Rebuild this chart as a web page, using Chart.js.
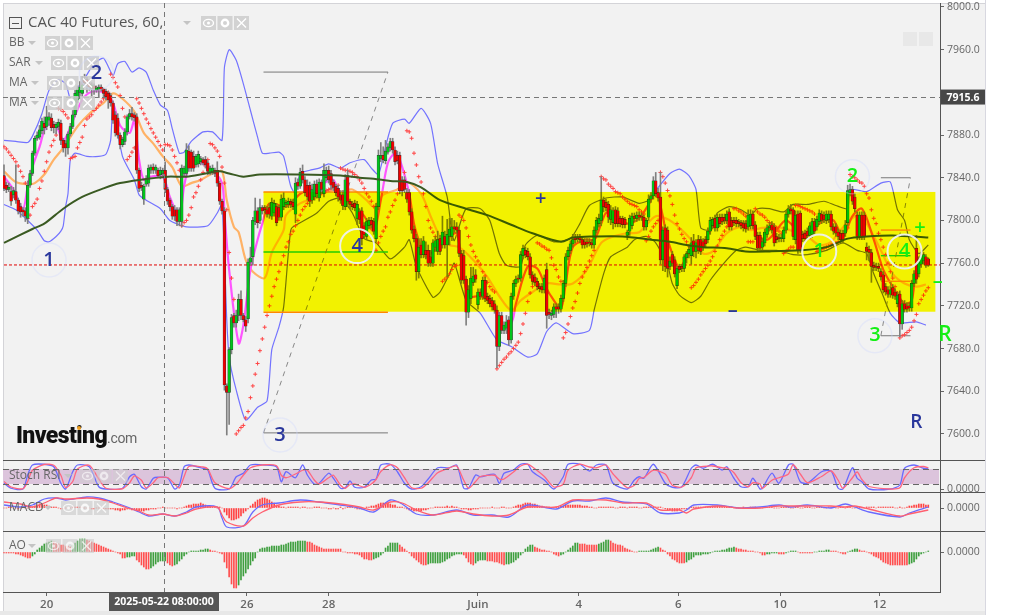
<!DOCTYPE html>
<html><head><meta charset="utf-8">
<style>html,body{margin:0;padding:0;background:#fff;overflow:hidden}canvas{display:block}</style>
<script src="https://cdn.jsdelivr.net/npm/chart.js@4"></script>
</head><body><canvas id="c" width="1014" height="615"></canvas>
<script>
const opens=[7842,7833,7829,7827,7824,7827,7819,7813,7810,7809,
7802,7833,7844,7863,7877,7878,7884,7891,7888,7894,
7896,7890,7887,7888,7891,7875,7872,7868,7881,7888,
7899,7913,7920,7919,7932,7932,7928,7923,7926,7922,
7923,7925,7923,7921,7919,7917,7910,7899,7896,7880,
7871,7874,7883,7897,7900,7899,7897,7847,7833,7820,
7834,7835,7847,7850,7847,7847,7843,7844,7847,7829,
7819,7813,7810,7810,7799,7799,7844,7844,7865,7864,
7860,7852,7853,7855,7857,7857,7854,7845,7846,7847,
7847,7835,7818,7809,7645,7639,7679,7711,7704,7711,
7726,7711,7707,7708,7761,7766,7799,7809,7800,7812,
7812,7810,7812,7804,7807,7813,7812,7803,7813,7815,
7815,7818,7817,7806,7836,7832,7846,7838,7833,7833,
7819,7822,7834,7821,7836,7825,7840,7847,7844,7836,
7832,7830,7824,7824,7813,7842,7818,7815,7816,7802,
7808,7809,7795,7785,7795,7800,7799,7783,7813,7858,
7861,7856,7864,7868,7874,7866,7861,7861,7838,7838,
7826,7826,7808,7792,7783,7752,7777,7768,7772,7772,
7766,7760,7775,7771,7783,7777,7785,7777,7785,7785,
7794,7794,7791,7769,7767,7745,7714,7727,7742,7749,
7721,7733,7729,7744,7729,7727,7725,7722,7716,7682,
7711,7697,7699,7707,7688,7729,7741,7746,7746,7767,
7772,7771,7766,7749,7747,7743,7738,7738,7735,7754,
7714,7711,7712,7719,7719,7717,7727,7741,7766,7772,
7778,7784,7784,7784,7782,7780,7780,7780,7779,7777,
7791,7797,7800,7819,7817,7815,7801,7798,7810,7809,
7802,7802,7801,7786,7790,7795,7804,7802,7805,7804,
7803,7794,7803,7820,7823,7837,7826,7822,7763,7793,
7791,7757,7768,7763,7739,7757,7757,7755,7765,7769,
7767,7781,7771,7782,7782,7780,7782,7782,7790,7795,
7802,7793,7803,7803,7803,7800,7808,7800,7800,7800,
7799,7798,7797,7797,7794,7795,7806,7796,7786,7786,
7775,7779,7787,7793,7796,7794,7785,7784,7783,7783,
7791,7806,7811,7810,7782,7806,7807,7787,7788,7790,
7786,7787,7799,7794,7799,7806,7805,7800,7801,7806,
7794,7794,7789,7788,7788,7788,7798,7826,7829,7822,
7805,7785,7805,7805,7775,7773,7770,7758,7757,7757,
7752,7749,7738,7735,7731,7737,7733,7722,7731,7703,
7722,7720,7720,7718,7741,7774,7750,7759,7762,7766,7764];
const closes=[7830,7829,7831,7818,7828,7819,7809,7808,7808,7804,
7833,7844,7863,7877,7880,7885,7893,7887,7897,7897,
7887,7887,7890,7892,7875,7868,7868,7881,7888,7899,
7919,7923,7925,7927,7929,7927,7925,7927,7923,7924,
7925,7923,7919,7916,7913,7910,7894,7882,7880,7871,
7876,7883,7897,7900,7897,7896,7847,7830,7831,7832,
7838,7849,7850,7847,7850,7842,7847,7847,7829,7818,
7813,7804,7804,7799,7810,7849,7849,7866,7849,7849,
7849,7860,7862,7858,7854,7852,7846,7849,7849,7844,
7835,7818,7809,7646,7639,7679,7709,7704,7711,7726,
7711,7707,7701,7761,7765,7800,7809,7798,7812,7809,
7810,7806,7806,7817,7816,7798,7803,7820,7821,7817,
7818,7815,7813,7835,7832,7845,7838,7826,7822,7818,
7829,7834,7825,7836,7829,7847,7847,7838,7833,7831,
7826,7822,7819,7814,7838,7818,7815,7813,7812,7815,
7801,7783,7787,7799,7800,7796,7790,7813,7861,7861,
7857,7865,7869,7874,7866,7855,7856,7828,7828,7829,
7820,7808,7791,7783,7752,7775,7768,7781,7768,7760,
7760,7779,7781,7782,7771,7789,7777,7787,7792,7794,
7792,7791,7769,7744,7744,7714,7735,7746,7748,7745,
7733,7729,7744,7727,7725,7722,7719,7716,7682,7711,
7697,7702,7705,7688,7729,7741,7745,7745,7768,7774,
7768,7766,7749,7743,7742,7738,7736,7735,7746,7711,
7712,7713,7719,7717,7717,7727,7741,7766,7772,7778,
7782,7782,7783,7782,7777,7777,7778,7779,7777,7791,
7800,7802,7819,7813,7812,7803,7810,7809,7797,7797,
7797,7796,7796,7789,7802,7804,7802,7805,7803,7803,
7794,7800,7820,7823,7837,7825,7821,7763,7791,7757,
7755,7762,7760,7750,7755,7754,7755,7766,7769,7773,
7779,7771,7779,7772,7771,7775,7778,7790,7800,7801,
7793,7803,7797,7799,7800,7806,7794,7794,7798,7797,
7797,7795,7793,7792,7805,7806,7795,7785,7774,7774,
7780,7789,7793,7795,7791,7779,7782,7783,7784,7791,
7806,7811,7809,7785,7805,7772,7772,7783,7783,7786,
7795,7799,7790,7801,7807,7800,7801,7806,7806,7794,
7790,7788,7785,7782,7782,7796,7828,7829,7818,7811,
7785,7805,7785,7785,7771,7770,7757,7756,7756,7755,
7747,7735,7733,7731,7735,7730,7729,7730,7703,7722,
7717,7717,7718,7741,7750,7745,7763,7767,7768,7758,7758];
const wickUp=[10,3,4,5,3,25,2,3,2,3,4,3,2,2,3,4,3,6,10,4,4,3,2,3,3,2,3,2,3,4,3,3,5,8,5,2,2,2,2,2,2,2,1,2,2,2,2,3,4,2,2,3,2,4,6,2,3,2,3,2,4,3,2,3,2,2,3,2,8,2,2,2,4,2,2,3,2,6,5,2,5,2,3,2,2,3,2,2,3,2,8,2,2,3,2,2,3,2,5,5,8,2,3,3,10,3,12,3,8,2,2,3,4,4,3,3,2,4,5,2,3,2,3,5,3,4,6,3,5,3,5,3,4,3,2,6,3,4,3,2,2,3,4,4,5,5,2,3,3,3,3,3,3,3,3,3,3,3,5,12,8,10,3,3,3,3,4,3,3,3,4,3,3,3,4,8,6,4,8,5,6,3,4,8,3,15,5,14,10,8,6,4,3,3,5,3,4,10,8,5,3,3,3,3,3,3,3,3,4,3,3,3,6,3,3,3,3,3,3,3,3,3,3,3,3,3,3,3,3,6,3,3,3,3,3,3,3,3,3,3,5,3,3,3,3,3,3,3,3,3,3,4,22,3,3,3,4,3,3,3,2,2,2,2,3,3,3,3,3,3,2,2,4,3,4,8,4,23,3,3,3,4,3,3,2,2,2,2,2,3,5,6,3,4,3,3,3,3,3,2,3,3,3,3,3,3,3,3,3,3,2,2,3,3,5,4,3,3,3,3,3,3,3,3,3,3,3,3,3,3,3,3,4,2,4,3,2,3,3,3,3,3,3,3,3,3,3,3,3,3,3,3,3,3,3,4,5,5,3,3,3,3,3,3,4,3,3,3,3,3,3,3,3,3,3,3,3,3,3,3,3,3,3,3,3,12,3,3,2,2,1];
const wickDown=[2,3,2,4,3,3,3,5,4,5,5,2,2,2,2,2,3,6,3,5,3,5,6,3,4,4,8,6,2,2,2,3,6,3,2,7,3,10,5,2,8,2,3,3,8,3,3,3,3,4,2,3,3,2,3,3,3,3,3,5,2,3,3,3,3,2,4,2,3,3,4,3,4,4,4,5,2,3,3,3,3,2,3,3,2,3,3,2,3,3,3,3,3,5,40,30,4,4,4,5,4,2,5,4,3,8,3,5,3,3,3,3,4,3,3,3,3,3,3,3,3,3,3,8,3,2,3,3,3,5,3,3,4,3,4,3,3,3,4,3,3,4,3,4,3,5,4,3,3,6,4,6,4,3,3,3,3,3,3,3,3,3,2,3,3,3,3,3,5,3,3,3,3,3,8,6,3,3,4,3,3,3,4,3,3,3,3,30,8,4,3,3,3,3,3,12,5,5,3,3,4,3,3,3,3,3,3,3,20,4,3,3,5,5,3,3,3,3,3,3,3,3,3,3,3,3,3,3,3,12,4,4,3,8,4,3,3,3,3,3,3,3,3,3,3,3,3,3,3,3,3,3,5,5,3,5,5,6,3,3,3,3,3,4,4,3,3,3,3,3,3,3,3,3,3,3,3,4,10,5,8,3,3,3,3,3,3,3,5,4,8,5,6,3,3,3,3,3,3,3,3,3,3,3,3,3,3,3,3,3,3,3,3,3,3,3,3,3,3,3,3,3,3,3,3,3,3,3,3,3,3,3,3,3,4,3,2,3,3,3,3,3,3,3,3,3,3,3,3,3,3,3,3,3,3,3,3,3,3,3,3,3,3,3,8,8,15,3,3,3,3,3,3,3,3,3,3,3,12,5,3,3,3,3,3,4,3,3,3,2,1];
const sar=[7869,7867,7864,7861,7858,7855,7851,7846,7841,7835,
7802,7805,7813,7816,7820,7830,7837,7846,7855,7864,
7870,7875,7880,7905,7904,7902,7899,7896,7858,7859,
7860,7868,7873,7878,7889,7895,7897,7899,7903,7905,
7908,7911,7914,7917,7920,7937,7934,7929,7925,7917,
7905,7897,7857,7860,7864,7868,7914,7910,7905,7900,
7895,7891,7886,7882,7878,7874,7870,7866,7871,7871,
7870,7866,7860,7854,7847,7795,7798,7800,7805,7812,
7822,7826,7832,7838,7845,7851,7857,7872,7871,7868,
7865,7860,7850,7835,7810,7770,7746,7726,7600,7603,
7606,7608,7615,7621,7634,7645,7656,7666,7678,7689,
7700,7711,7720,7729,7738,7745,7752,7760,7767,7775,
7780,7787,7790,7795,7800,7805,7810,7813,7816,7818,
7820,7822,7823,7825,7826,7827,7828,7829,7830,7831,
7832,7833,7849,7848,7847,7847,7846,7845,7843,7841,
7838,7835,7830,7825,7822,7818,7813,7772,7779,7785,
7790,7794,7803,7808,7814,7819,7825,7830,7835,7845,
7884,7883,7877,7863,7852,7841,7836,7825,7813,7800,
7793,7789,7785,7782,7780,7743,7745,7747,7750,7754,
7757,7758,7805,7803,7800,7793,7785,7777,7771,7766,
7762,7759,7752,7748,7742,7738,7735,7733,7661,7664,
7667,7670,7672,7675,7677,7680,7683,7686,7694,7703,
7713,7724,7732,7738,7745,7779,7778,7776,7775,7773,
7772,7765,7758,7754,7747,7743,7690,7695,7703,7710,
7718,7724,7732,7741,7747,7752,7756,7762,7767,7772,
7785,7795,7841,7839,7838,7834,7832,7830,7827,7826,
7825,7822,7820,7818,7816,7815,7814,7813,7810,7808,
7806,7781,7785,7790,7794,7797,7800,7845,7841,7835,
7828,7823,7815,7805,7797,7792,7787,7783,7780,7776,
7737,7739,7742,7745,7749,7752,7755,7758,7762,7766,
7771,7776,7782,7786,7790,7794,7796,7798,7811,7811,
7809,7808,7806,7804,7780,7780,7780,7811,7808,7806,
7805,7803,7800,7798,7797,7795,7793,7790,7788,7769,
7771,7773,7775,7775,7814,7814,7813,7812,7811,7810,
7809,7808,7806,7771,7772,7773,7774,7775,7776,7777,
7778,7779,7780,7783,7786,7790,7793,7843,7841,7840,
7838,7836,7835,7832,7825,7821,7810,7802,7797,7788,
7782,7775,7768,7760,7752,7746,7738,7732,7690,7692,
7693,7695,7697,7700,7706,7712,7722,7726,7730,7734,7737];
const bbUpperIdx=[0,5,10,12,16,19,23,26,28,29,31,34,38,42,46,48,51,54,57,60,63,66,69,71,74,76,79,84,88,92,93,95,98,101,104,107,109,112,116,118,121,123,125,129,133,137,142,146,152,155,158,161,164,169,171,176,180,183,187,189,190,192,195,201,205,209,212,218,220,225,232,239,243,247,254,261,268,272,275,281,285,289,292,294,298,301,306,311,315,318,323,329,333,339,346,351,356,357,364,370,374,377,380,382,386,390];
const bbUpper=[7875,7874,7873,7879,7900,7922,7932,7928,7913,7910,7924,7933,7947,7952,7936,7947,7949,7939,7943,7939,7922,7908,7903,7886,7863,7864,7874,7883,7883,7875,7943,7960,7950,7928,7903,7878,7863,7863,7864,7860,7832,7825,7844,7847,7849,7853,7849,7854,7857,7849,7843,7869,7891,7895,7891,7905,7891,7853,7822,7788,7781,7794,7811,7811,7800,7769,7758,7757,7777,7786,7780,7783,7797,7814,7821,7822,7816,7819,7828,7844,7848,7842,7829,7793,7791,7807,7813,7810,7805,7811,7811,7808,7815,7815,7818,7814,7811,7829,7827,7835,7836,7810,7800,7782,7769,7777];
const bbLowerIdx=[0,5,10,14,17,19,22,24,25,26,27,28,30,35,40,43,45,46,50,55,57,60,66,70,77,86,90,92,94,95,98,102,107,111,113,116,118,120,121,122,132,137,142,147,152,157,163,169,171,174,181,184,188,190,195,201,208,214,221,225,229,233,240,247,249,253,256,263,266,271,275,280,282,285,290,294,298,303,309,313,319,326,333,339,347,354,360,364,367,371,374,378,385,389];
const bbLower=[7815,7810,7800,7791,7781,7780,7785,7790,7795,7813,7825,7857,7863,7860,7860,7862,7875,7907,7860,7838,7824,7819,7811,7800,7794,7795,7807,7815,7707,7672,7641,7613,7625,7631,7679,7700,7719,7770,7791,7794,7807,7818,7821,7807,7783,7779,7764,7775,7782,7757,7728,7733,7750,7760,7725,7713,7688,7682,7672,7675,7696,7704,7694,7697,7716,7750,7766,7775,7782,7785,7779,7758,7741,7730,7723,7729,7744,7758,7772,7775,7772,7772,7768,7768,7772,7779,7772,7769,7750,7729,7713,7704,7705,7702];
const maFastIdx=[0,4,8,10,12,15,18,22,25,27,31,34,38,43,46,49,53,55,57,59,62,67,70,74,76,79,83,88,92,93,95,99,101,104,107,109,112,119,125,129,135,139,142,147,152,156,159,162,165,167,171,173,176,178,183,187,191,193,196,201,207,209,214,216,221,225,228,230,235,237,240,245,249,252,254,257,263,268,273,275,278,280,285,288,291,295,299,305,311,315,318,322,325,330,336,340,346,350,354,358,362,367,371,375,380,383,385,388,390];
const maFast=[7841,7829,7811,7832,7850,7869,7889,7888,7875,7882,7904,7916,7921,7919,7910,7889,7882,7894,7857,7838,7841,7841,7822,7804,7832,7857,7854,7847,7835,7807,7754,7685,7702,7754,7782,7797,7816,7813,7825,7829,7835,7838,7822,7816,7804,7790,7819,7854,7863,7857,7825,7797,7775,7766,7775,7783,7788,7760,7729,7729,7719,7701,7704,7722,7757,7755,7741,7732,7718,7741,7775,7782,7782,7797,7807,7807,7797,7802,7819,7829,7804,7782,7755,7766,7775,7779,7794,7800,7797,7800,7786,7782,7788,7800,7788,7790,7800,7800,7785,7804,7811,7782,7754,7738,7722,7725,7754,7761,7758];
const maMidIdx=[0,5,10,13,17,21,25,31,36,42,46,50,55,59,63,67,71,75,79,83,88,92,94,97,99,102,105,110,113,118,119,125,132,139,142,147,153,156,160,166,170,176,180,184,188,192,198,204,209,214,218,223,229,235,240,246,252,257,263,268,275,281,285,290,295,299,305,311,315,320,326,333,339,344,349,353,360,364,370,375,380,385,389];
const maMid=[7846,7836,7834,7835,7843,7857,7868,7888,7900,7910,7919,7914,7902,7882,7872,7860,7850,7832,7835,7838,7844,7846,7819,7794,7789,7763,7752,7746,7770,7791,7805,7816,7822,7829,7827,7829,7819,7813,7824,7829,7836,7825,7804,7785,7777,7775,7763,7747,7729,7716,7725,7733,7741,7740,7741,7754,7779,7785,7788,7789,7804,7800,7793,7782,7769,7771,7788,7794,7791,7793,7794,7790,7785,7777,7780,7791,7805,7797,7772,7750,7741,7738,7740];
const maLongIdx=[0,12,17,25,33,42,49,57,69,77,85,91,95,101,108,125,142,150,156,163,170,176,184,195,204,214,223,235,240,249,261,273,281,288,295,305,313,323,336,347,356,364,375,390];
const maLong=[7779,7792,7797,7811,7822,7830,7835,7838,7841,7841,7844,7846,7844,7841,7843,7843,7842,7840,7839,7837,7836,7831,7819,7811,7805,7796,7788,7780,7784,7785,7785,7782,7780,7777,7775,7774,7771,7771,7772,7775,7783,7785,7786,7784];
const stochIdx=[0,3,8,10,12,17,21,24,26,29,31,36,40,43,50,53,55,58,60,63,65,69,72,74,76,78,84,86,89,95,98,101,104,110,115,117,119,123,126,128,131,133,137,139,142,144,146,148,152,155,157,159,163,166,169,172,176,179,183,188,191,194,196,199,201,207,209,211,215,218,221,223,228,232,236,238,243,247,250,254,257,263,266,268,270,274,279,282,286,290,292,295,299,303,305,308,311,314,316,319,320,324,327,331,333,336,339,345,349,352,354,358,360,362,365,374,378,380,384,388,390];
const stochK=[23,3,0,56,96,99,89,23,0,69,96,89,9,0,3,49,59,9,0,43,47,45,0,16,89,96,83,76,3,0,49,63,96,96,89,29,69,45,96,56,19,23,63,43,3,5,32,7,7,36,40,96,99,69,23,0,9,40,85,85,96,3,3,56,49,59,23,63,76,99,99,69,36,0,49,99,99,72,96,96,23,0,36,49,43,99,23,7,9,83,96,83,99,76,89,43,9,9,43,0,3,63,23,96,99,29,23,69,72,3,0,85,43,29,0,0,16,83,96,83,83];
const stochD=[30,8,1,30,75,98,95,55,6,30,80,95,40,3,1,25,52,35,4,25,45,46,20,4,50,90,88,80,25,1,20,55,85,97,93,55,45,60,75,75,35,20,45,55,15,3,18,20,7,20,38,70,97,85,45,5,3,25,65,85,92,35,3,30,50,55,40,40,68,92,99,88,50,8,20,75,99,88,85,96,60,5,15,42,46,75,60,15,8,45,85,90,92,85,84,65,25,9,25,20,2,35,45,60,97,60,25,50,72,35,3,45,68,38,10,0,5,45,85,90,85];
const macdIdx=[0,7,12,17,22,26,35,40,46,52,57,61,67,72,77,81,90,92,94,101,105,109,116,125,133,142,150,156,163,168,174,181,191,198,206,213,221,233,240,247,254,261,271,277,285,288,291,301,310,319,327,332,339,349,355,359,365,378,382,390];
const macdBlue=[3,1,3,9,10,8,11,10,6,1,-4,-8,-6,-8,-4,1,1,-10,-19,-18,-4,3,5,8,6,3,0,-4,8,4,-6,-7,-2,-7,-7,-9,3,-1,7,7,10,6,4,-5,-5,-2,3,3,0,1,3,1,3,0,4,1,-4,-9,-5,1];
const macdRed=[6,4,1,5,10,9,10,9,5,0,-3,-7,-6,-8,-5,-1,1,-7,-14,-18,-10,-4,3,6,6,4,1,-2,6,5,-2,-7,-3,-6,-8,-7,1,1,8,8,8,5,5,-2,-2,-5,-1,2,0,0,2,2,2,2,1,2,-1,-8,-6,-2];
const macdHist=[0,0,1,1,0,0,-1,0,1,0,0,1,1,2,3,4,4,3,3,2,1,1,1,0,-1,-1,0,0,0,1,1,1,1,1,0,0,0,-1,-1,0,0,0,-1,-1,-1,-1,-1,-2,-2,-3,-2,-2,-1,-1,-2,-1,-2,-3,-3,-3,-2,-2,-1,-1,-1,0,0,1,0,0,0,0,0,-1,0,0,1,2,3,3,4,4,4,5,4,3,2,2,1,1,0,1,0,-4,-7,-10,-12,-12,-11,-10,-8,-5,-3,-1,2,4,6,8,9,10,10,9,8,6,5,3,2,1,1,0,1,1,1,1,1,0,1,1,0,0,0,1,1,1,0,0,0,-1,-1,0,-1,-1,1,-1,0,1,1,1,0,-1,-1,-1,-1,1,1,2,2,3,4,5,5,5,5,4,3,3,1,1,1,0,-1,-2,-2,-3,-3,-3,-3,-2,-2,-1,0,0,1,1,1,1,1,2,1,2,1,1,0,-1,-1,-1,-2,-2,-1,-1,-1,0,0,0,0,0,1,0,0,0,1,1,0,0,0,1,2,3,3,4,5,5,5,4,4,3,2,2,1,1,1,0,0,1,1,2,2,3,3,3,3,3,3,3,2,2,2,1,1,0,0,1,1,1,1,1,1,1,0,0,1,1,1,0,1,1,1,1,0,0,1,1,1,1,1,1,1,1,0,-1,-2,-2,-3,-3,-3,-2,-1,-1,-1,-1,1,1,1,1,1,1,1,1,1,2,2,2,2,2,2,1,1,1,0,0,0,0,1,0,0,1,1,1,0,0,0,1,1,1,1,0,0,0,1,1,1,1,0,0,1,1,0,0,1,1,1,0,0,1,1,1,0,0,1,1,1,0,0,1,1,0,1,1,0,0,1,1,0,0,1,1,1,1,0,1,1,1,1,1,1,1,0,0,1,0,0,1,2,2,3,3,4,4,4,3,3];
const aoValues=[-1,-1,-1,-1,-1,-2,-2,-3,-4,-5,-6,-6,-4,-2,2,4,6,8,9,10,11,10,9,8,7,7,6,6,5,7,9,11,13,13,13,12,11,10,9,8,7,6,5,4,3,2,1,0,-1,-2,-6,-6,-5,-5,-4,-4,-8,-10,-13,-15,-17,-17,-16,-14,-12,-10,-9,-9,-9,-11,-13,-14,-13,-12,-9,-7,-4,-2,0,1,1,1,1,2,2,3,3,2,1,1,0,-1,-2,-10,-16,-25,-32,-36,-36,-33,-28,-24,-21,-17,-13,-9,-6,0,3,4,4,5,5,6,6,6,6,7,7,8,9,10,10,10,11,11,11,11,10,10,9,7,6,5,4,3,3,3,3,3,3,3,3,
0,0,-1,-1,-1,-2,-2,-3,-5,-7,-7,-8,-8,-7,-6,-5,-3,-1,4,6,9,9,9,9,7,5,3,1,-1,-4,-6,-8,-10,-12,-13,-13,-12,-11,-11,-11,-11,-11,-10,-9,-7,-6,-4,-3,-2,-2,-2,-3,-6,-10,-12,-13,-11,-9,-8,-8,-8,-9,-9,-9,-10,-10,-11,-12,-13,-12,-12,-11,-10,-8,-6,-3,-1,3,5,7,7,5,4,3,2,2,1,1,0,-2,-3,-4,-3,-2,0,2,4,6,9,9,8,8,8,7,7,7,7,7,8,9,10,12,12,11,9,8,7,7,6,4,3,2,1,0,0,1,1,1,1,1,2,3,4,5,4,2,1,-2,-4,-7,-8,-10,-11,
-11,-11,-10,-8,-7,-5,-3,-3,-3,-2,-2,-2,-1,0,1,1,1,2,2,3,4,4,5,4,3,3,2,2,1,1,1,0,0,-1,-3,-3,-2,-2,-1,-1,-1,-2,-2,-2,-1,0,1,1,1,0,-1,-1,-1,-1,-1,-1,0,0,1,1,1,2,2,1,1,1,0,-1,-2,-2,0,1,2,3,3,2,1,1,0,-1,-2,-4,-5,-6,-8,-10,-11,-12,-13,-13,-13,-13,-13,-13,-13,-13,-12,-11,-10,-7,-4,-2,-1,0,1];
const priceTicks=[8000,7960,7880,7840,7800,7760,7720,7680,7640,7600];
const xTickIdx=[18,102.5,137,200,242.5,284.5,327.5,369.5];
const xTickText=['20','26','28','Juin','4','6','10','12'];
const waveIdx=[19,39,116.5,149,226.5,307.5,385,344,358,367.5,380,386.5,394,397];
const wavePrice=[7763,7938,7599,7776,7820,7716,7611,7771,7841,7692,7771,7793,7743,7693];
const waveText=['1','2','3','4','+','–','R','1','2','3','4','+','–','R'];
const waveRing=[1,1,1,2,0,0,0,2,1,1,2,0,0,0];
const boxStartIdx=109.5, boxEndIdx=393, boxTop=7826.7, boxBottom=7714.5;
const lastPrice=7758.3, crossPrice=7915.6, crossIdx=67.5;
const fibLeftIdx=[109.5,162], fibRightIdx=[370,382.5];
const fibA=[[7939,7939],[7601,7601],[7770.5,7770.5],[7714,7714]];
const fibB=[[7840,7840],[7692,7692],[7767,7767],[7791,7791],[7743,7743]];

const N=opens.length;
const xs=[...Array(N).keys()];
const green='#00c41c', red='#f00000';
const ptsOf=(ix,vals)=>ix.map((x,k)=>({x,y:vals[k]}));
const line=(ix,vals,color,width,order,axis,extra)=>Object.assign({type:'line',data:ptsOf(ix,vals),borderColor:color,borderWidth:width,pointRadius:0,tension:0.3,order,yAxisID:axis,fill:false},extra||{});
const seg=(x0,x1,y0,y1,color,extra)=>line([x0,x1],[y0,y1],color,1,5,'y',Object.assign({tension:0},extra||{}));
let aoPrevUp=false;
const aoColors=aoValues.map((v,i)=>{ if(i>0){ if(v>aoValues[i-1]) aoPrevUp=true; else if(v<aoValues[i-1]) aoPrevUp=false; } return aoPrevUp?'#3f9f3f':'#ff4f4f'; });

const datasets=[
 line(bbUpperIdx,bbUpper,'#7373ff',1.2,8,'y',{tension:0.2}),
 line(bbLowerIdx,bbLower,'#7373ff',1.2,8,'y',{tension:0.2}),
 line(maMidIdx,maMid,'#ffb266',2.2,7,'y'),
 line(maFastIdx,maFast,'#ff55ff',2.2,6,'y'),
 seg(0,394.9,lastPrice,lastPrice,'#e00000',{borderDash:[3,2]}),
 seg(fibLeftIdx[0],fibLeftIdx[1],fibA[0][0],fibA[0][1],'#777'),
 seg(fibLeftIdx[0],fibLeftIdx[1],fibA[1][0],fibA[1][1],'#777'),
 seg(fibLeftIdx[0],fibLeftIdx[1],fibA[1][0],fibA[0][0],'#888',{borderDash:[5,5]}),
 seg(fibLeftIdx[0],fibLeftIdx[1],fibA[2][0],fibA[2][1],'#22cc22',{borderWidth:1.4}),
 seg(fibLeftIdx[0],fibLeftIdx[1],fibA[3][0],fibA[3][1],'#ff8800',{borderWidth:1.4}),
 seg(fibLeftIdx[0],fibLeftIdx[1],boxTop,boxTop,'#ff8800',{borderWidth:1.4}),
 seg(fibRightIdx[0],fibRightIdx[1],fibB[0][0],fibB[0][1],'#777'),
 seg(fibRightIdx[0],fibRightIdx[1],fibB[1][0],fibB[1][1],'#777'),
 seg(fibRightIdx[0],fibRightIdx[1],fibB[1][0],fibB[0][0],'#888',{borderDash:[5,5]}),
 seg(fibRightIdx[0],fibRightIdx[1],fibB[2][0],fibB[2][1],'#22cc22',{borderWidth:1.4}),
 seg(fibRightIdx[0],fibRightIdx[1],fibB[3][0],fibB[3][1],'#ff8800',{borderWidth:1.4}),
 seg(fibRightIdx[0],fibRightIdx[1],fibB[4][0],fibB[4][1],'#ff8800',{borderWidth:1.4}),
 {type:'line',data:ptsOf(xs,sar),showLine:false,pointStyle:'cross',pointRadius:2,pointBorderWidth:1,pointBorderColor:'#ff4444',order:3,yAxisID:'y'},
 {type:'bar',data:xs.map(i=>({x:i,y:[Math.min(opens[i],closes[i])-wickDown[i],Math.max(opens[i],closes[i])+wickUp[i]]})),backgroundColor:'#808080',barThickness:1,grouped:false,order:2,yAxisID:'y'},
 {type:'bar',data:xs.map(i=>({x:i,y:[opens[i],closes[i]]})),backgroundColor:xs.map(i=>closes[i]>=opens[i]?green:red),borderColor:'#333',borderWidth:0.5,borderSkipped:false,barThickness:2.8,grouped:false,order:1,yAxisID:'y'},
 line(maLongIdx,maLong,'#3a5a22',2,0,'y'),
 line(stochIdx,stochK,'#6a6aff',1.3,2,'yStoch',{tension:0.25}),
 line(stochIdx,stochD,'#ff6680',1.3,1,'yStoch',{tension:0.25}),
 line(macdIdx,macdBlue,'#6a6aff',1.3,2,'yMacd'),
 line(macdIdx,macdRed,'#ff6070',1.3,1,'yMacd'),
 {type:'bar',data:xs.map(i=>({x:i,y:macdHist[i]})),backgroundColor:'#ff4444',barThickness:1,grouped:false,order:3,yAxisID:'yMacd'},
 {type:'bar',data:xs.map(i=>({x:i,y:aoValues[i]})),backgroundColor:aoColors,barThickness:1,grouped:false,order:1,yAxisID:'yAo'}
];

const fontFam='"Open Sans","Liberation Sans",sans-serif';
function icons(ctx,x,y,alpha){
  const a=alpha==null?1:alpha;
  for(let k=0;k<3;k++){
    const cx=x+k*16.5, cy=y;
    ctx.fillStyle='rgba(205,205,205,'+(0.85*a)+')';
    ctx.fillRect(cx,cy-7,15,14);
    ctx.strokeStyle='rgba(255,255,255,'+a+')'; ctx.fillStyle='rgba(255,255,255,'+a+')'; ctx.lineWidth=1.4;
    ctx.beginPath();
    if(k===0){ ctx.ellipse(cx+7.5,cy,5,3.6,0,0,Math.PI*2); ctx.stroke(); ctx.beginPath(); ctx.arc(cx+7.5,cy,1.5,0,Math.PI*2); ctx.fill(); }
    else if(k===1){ ctx.arc(cx+7.5,cy,3.2,0,Math.PI*2); ctx.lineWidth=2.4; ctx.stroke(); }
    else { ctx.moveTo(cx+3,cy-4.5); ctx.lineTo(cx+12,cy+4.5); ctx.moveTo(cx+12,cy-4.5); ctx.lineTo(cx+3,cy+4.5); ctx.stroke(); }
  }
}
function caret(ctx,x,y){ ctx.fillStyle='#c4c4c4'; ctx.beginPath(); ctx.moveTo(x,y-2); ctx.lineTo(x+8,y-2); ctx.lineTo(x+4,y+2); ctx.fill(); }

const paint={
 id:'paint',
 afterLayout(ch){
  const place=(s,l,r,t,b)=>{s.left=l;s.right=r;s.top=t;s.bottom=b;s.width=r-l;s.height=b-t;s.configure();};
  const a=ch.chartArea; a.left=3;a.right=940;a.top=3;a.bottom=592;a.width=937;a.height=589;
  place(ch.scales.x,3,940,592,615);
  place(ch.scales.y,940,985,3,460);
  place(ch.scales.yStoch,940,985,460,492);
  place(ch.scales.yMacd,940,985,492,531);
  place(ch.scales.yAo,940,985,531,592);
 },
 beforeDraw(ch){
  const c=ch.ctx; c.save();
  c.fillStyle='#ffffff'; c.fillRect(0,0,1014,615);
  c.fillStyle='#f2f2f2'; c.fillRect(3,3,982,608);
  c.fillStyle='#e8e8e8'; c.fillRect(0,611,985,4);
  c.fillStyle='#d8d8e0'; c.fillRect(985,0,1,615);
  c.fillStyle='#d4d4d8'; c.fillRect(3,3,982,1); c.fillRect(3,3,1,608);
  const ys=ch.scales.yStoch;
  c.fillStyle='#dcc4dc'; c.fillRect(3,ys.getPixelForValue(80),936,ys.getPixelForValue(20)-ys.getPixelForValue(80));
  c.restore();
 },
 afterDatasetsDraw(ch){
  const c=ch.ctx,y=ch.scales.y,x=ch.scales.x,ys=ch.scales.yStoch;
  c.save();
  c.globalCompositeOperation='multiply';
  c.fillStyle='#ffff00';
  const x0=x.getPixelForValue(boxStartIdx),x1=x.getPixelForValue(boxEndIdx),yt=y.getPixelForValue(boxTop),yb=y.getPixelForValue(boxBottom);
  c.fillRect(x0,yt,x1-x0,yb-yt);
  c.globalCompositeOperation='source-over';
  c.strokeStyle='#666'; c.lineWidth=1; c.setLineDash([6,4]);
  [80,20].forEach(v=>{const p=Math.round(ys.getPixelForValue(v))+0.5; c.beginPath(); c.moveTo(3,p); c.lineTo(940,p); c.stroke();});
  c.strokeStyle='#777'; c.setLineDash([5,4]);
  const cx=Math.round(x.getPixelForValue(crossIdx))+0.5, cy=Math.round(y.getPixelForValue(crossPrice))+0.5;
  c.beginPath(); c.moveTo(cx,3); c.lineTo(cx,592); c.moveTo(3,cy); c.lineTo(940,cy); c.stroke();
  c.setLineDash([]);
  c.strokeStyle='#555';
  [ys.top,ch.scales.yMacd.top,ch.scales.yAo.top].forEach(t=>{const p=Math.round(t)+0.5;c.beginPath();c.moveTo(3,p);c.lineTo(985,p);c.stroke();});
  c.restore();
 },
 afterDraw(ch){
  const c=ch.ctx,y=ch.scales.y,x=ch.scales.x;
  c.save();
  c.textBaseline='middle'; c.textAlign='left';
  c.strokeStyle='#555'; c.lineWidth=1; c.strokeRect(9.5,17.5,12,11);
  c.beginPath(); c.moveTo(12,23.5); c.lineTo(19,23.5); c.stroke();
  c.font='15px '+fontFam; c.fillStyle='#555';
  c.fillText('CAC 40 Futures, 60,',28,23);
  caret(c,183,23); icons(c,201,23);
  [['BB',43,28,45],['SAR',63,35,51],['MA',83,31,47],['MA',103,31,47]].forEach(r=>{
    c.fillStyle='#666'; c.font='12px '+fontFam; c.fillText(r[0],9,r[1]); caret(c,r[2],r[1]); icons(c,r[3],r[1]);
  });
  c.fillStyle='#666'; c.font='12px '+fontFam;
  c.fillText('Stoch RSI',9,476); caret(c,64,476); icons(c,80,476,0.6);
  c.fillStyle='#666'; c.font='12px '+fontFam;
  c.fillText('MACD',9,508); caret(c,44,508); icons(c,61,508,0.8);
  c.fillStyle='#666'; c.font='12px '+fontFam;
  c.fillText('AO',9,546); caret(c,28,546); icons(c,46,546,0.7);
  c.fillStyle='rgba(228,228,228,.7)'; c.fillRect(903,32,14,14); c.fillRect(919,32,14,14);
  waveText.forEach((t,k)=>{
   const px=x.getPixelForValue(waveIdx[k]),py=y.getPixelForValue(wavePrice[k]);
   const isGreen=k>=7;
   if(waveRing[k]){
    c.beginPath(); c.arc(px,py,17,0,Math.PI*2);
    c.strokeStyle=waveRing[k]===2?'rgba(238,240,238,.95)':'rgba(205,215,255,.35)'; c.lineWidth=waveRing[k]===2?2:1.5; c.stroke();
   }
   const big=t==='R'?(isGreen?21:19):20;
   c.font='600 '+big+'px '+fontFam;
   c.fillStyle=isGreen?'#14f014':'#2a379c';
   c.textAlign='center'; c.textBaseline='middle';
   c.fillText(t,px,py);
  });
  c.textAlign='left';
  c.font='900 23px Roboto,'+fontFam; c.fillStyle='#111'; c.letterSpacing='-0.6px';
  c.textBaseline='alphabetic';
  c.fillText('Investing',16,443);
  c.letterSpacing='-0.3px';
  c.font='14px Roboto,'+fontFam; c.fillStyle='#666';
  c.fillText('.com',107,443);
  c.letterSpacing='0px';
  c.fillStyle='#f0a020'; c.beginPath(); c.arc(79,428,2,0,7); c.fill();
  c.textBaseline='middle'; c.textAlign='center';
  const py=y.getPixelForValue(crossPrice);
  c.fillStyle='#474747'; c.fillRect(941,py-7.5,44,15);
  c.fillStyle='#fff'; c.font='bold 10.5px '+fontFam; c.fillText(crossPrice.toFixed(1),963,py+0.5);
  c.fillStyle='#555'; c.fillRect(109,592,110,19);
  c.fillStyle='#fff'; c.font='bold 10.5px '+fontFam; c.fillText('2025-05-22 08:00:00',164,602);
  c.restore();
 }
};

const yAxis=(min,max,weight,ticks,cb)=>({
 type:'linear',position:'right',stack:'panels',stackWeight:weight,min,max,
 afterBuildTicks:s=>{s.ticks=ticks.map(v=>({value:v}));},
 afterFit:s=>{s.width=45;s.paddingTop=0;s.paddingBottom=0;},
 grid:{drawOnChartArea:false,drawTicks:true,tickLength:4,tickColor:'#666',color:'#666'},
 border:{display:true,color:'#555',width:1},
 ticks:{autoSkip:false,padding:3,crossAlign:'near',color:'#666',font:{family:fontFam,size:10.5},callback:cb}
});
new Chart(document.getElementById('c'),{
 type:'line',
 data:{datasets},
 plugins:[paint],
 options:{
  responsive:false,animation:false,
  layout:{padding:{left:3,top:3,right:29,bottom:0}},
  plugins:{legend:{display:false},tooltip:{enabled:false}},
  events:[],
  elements:{line:{spanGaps:true}},
  scales:{
   x:{type:'linear',min:-0.42,max:394.95,offset:false,
    afterBuildTicks:s=>{s.ticks=xTickIdx.map(v=>({value:v}));},
    afterFit:s=>{s.height=23;s.paddingLeft=0;s.paddingRight=0;},
    grid:{drawOnChartArea:false,offset:false,tickLength:4,tickColor:'#666'},
    border:{display:true,color:'#555',width:1},
    ticks:{autoSkip:false,maxRotation:0,minRotation:0,padding:2,color:'#666',font:{family:fontFam,size:11.5,weight:'600'},
     callback:v=>xTickText[xTickIdx.indexOf(v)]}},
   y:yAxis(7575.6,8003.7,457,priceTicks,v=>Number(v).toFixed(1)),
   yStoch:yAxis(-12,116,32,[0],v=>Number(v).toFixed(4)),
   yMacd:yAxis(-23,16,39,[0],v=>Number(v).toFixed(4)),
   yAo:yAxis(-40,21,61,[0],v=>Number(v).toFixed(4))
  }
 }
});
</script></body></html>
